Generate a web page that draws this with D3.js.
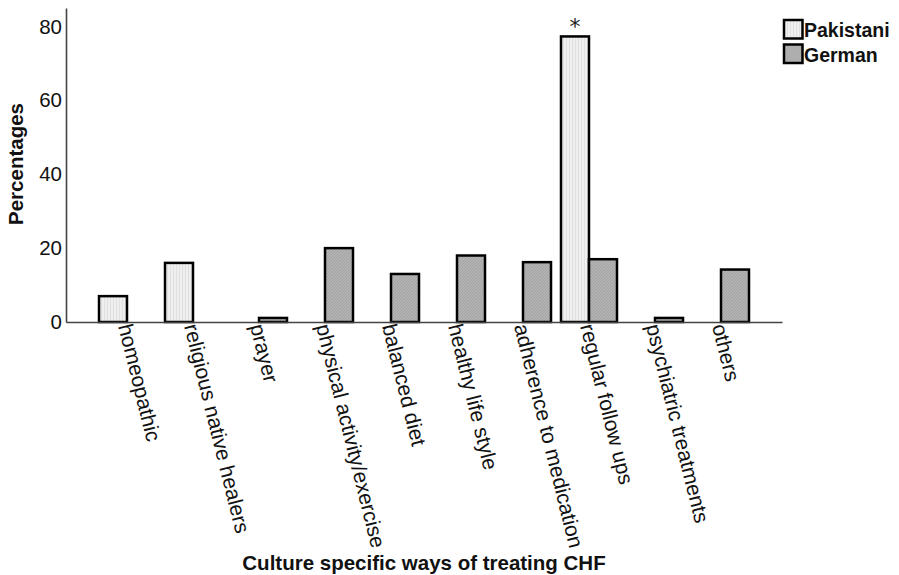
<!DOCTYPE html>
<html>
<head>
<meta charset="utf-8">
<script src="https://cdn.jsdelivr.net/npm/d3@7"></script>
<style>
  html, body { margin: 0; padding: 0; background: #fff; }
  svg { display: block; font-family: "Liberation Sans", Arial, sans-serif; }
</style>
</head>
<body>
<svg id="chart" width="899" height="575"></svg>
<script>
const categories = [
  "homeopathic", "religious native healers", "prayer", "physical activity/exercise",
  "balanced diet", "healthy life style", "adherence to medication", "regular follow ups",
  "psychiatric treatments", "others"
];
const seriesNames = ["Pakistani", "German"];
const pakistani = [7, 16, 0, 0, 0, 0, 0, 77.3, 0, 0];
const german = [0, 0, 1.1, 20, 13, 18, 16.2, 17, 1.1, 14.2];
const yTicks = [0, 20, 40, 60, 80];
const significant = ["regular follow ups"];
const yTitle = "Percentages";
const xTitle = "Culture specific ways of treating CHF";

const svg = d3.select("#chart");
const defs = svg.append("defs");

// textures
const pPat = defs.append("pattern").attr("id", "patP").attr("patternUnits", "userSpaceOnUse")
  .attr("width", 3).attr("height", 3);
pPat.append("rect").attr("width", 3).attr("height", 3).attr("fill", "#efefef");
pPat.append("rect").attr("x", 1).attr("width", 1).attr("height", 3).attr("fill", "#e0e0e0");

const gPat = defs.append("pattern").attr("id", "patG").attr("patternUnits", "userSpaceOnUse")
  .attr("width", 3).attr("height", 3);
gPat.append("rect").attr("width", 3).attr("height", 3).attr("fill", "#b3b3b3");
gPat.append("path").attr("d", "M0,3 L3,0").attr("stroke", "#a2a2a2").attr("stroke-width", 1);

const fills = { "Pakistani": "url(#patP)", "German": "url(#patG)" };

const x0 = d3.scaleBand().domain(categories).range([66, 782])
  .paddingInner(0).paddingOuter(28 / 66);
const x1 = d3.scaleBand().domain(seriesNames).range([5, 61]);
const y = d3.scaleLinear().domain([0, 85]).range([322, 8]);

const data = categories.map((c, i) => ({
  cat: c,
  values: [
    { s: "Pakistani", v: pakistani[i] },
    { s: "German", v: german[i] }
  ]
}));

// bars
const groups = svg.append("g").selectAll("g").data(data).join("g")
  .attr("transform", d => `translate(${x0(d.cat)},0)`);
groups.selectAll("rect").data(d => d.values.filter(e => e.v > 0)).join("rect")
  .attr("x", d => x1(d.s))
  .attr("width", x1.bandwidth())
  .attr("y", d => y(d.v))
  .attr("height", d => y(0) - y(d.v))
  .attr("fill", d => fills[d.s])
  .attr("stroke", "#000")
  .attr("stroke-width", 2.5);

// significance marker
groups.filter(d => significant.includes(d.cat)).append("text")
  .attr("x", x1("Pakistani") + x1.bandwidth() / 2)
  .attr("y", d => y(d.values[0].v) - 2.5)
  .attr("text-anchor", "middle")
  .style("font-family", "'DejaVu Sans', sans-serif")
  .style("font-size", "22px")
  .attr("fill", "#222")
  .text("*");

// y axis
const yAxis = svg.append("g").attr("transform", "translate(66,0)")
  .call(d3.axisLeft(y).tickValues(yTicks).tickSize(0).tickPadding(4).tickSizeOuter(0));
yAxis.select(".domain").attr("stroke", "#444").attr("stroke-width", 1.6);
yAxis.selectAll("text").style("font-size", "20.5px").attr("fill", "#111")
  .style("font-family", "'Liberation Sans', Arial, sans-serif");

// x axis
const xAxis = svg.append("g").attr("transform", "translate(0,322)")
  .call(d3.axisBottom(x0).tickSize(0).tickSizeOuter(0));
xAxis.select(".domain").attr("stroke", "#444").attr("stroke-width", 1.6);
xAxis.selectAll("text")
  .attr("x", 0).attr("y", 0).attr("dy", 0)
  .attr("text-anchor", "start")
  .attr("transform", "translate(-9,4) rotate(76)")
  .style("font-size", "21px").attr("fill", "#111")
  .style("font-family", "'Liberation Sans', Arial, sans-serif");

// titles
svg.append("text")
  .attr("transform", "translate(23,164) rotate(-90)")
  .attr("text-anchor", "middle")
  .style("font-size", "20.5px").style("font-weight", "bold").attr("fill", "#111")
  .text(yTitle);
svg.append("text")
  .attr("x", 424).attr("y", 570)
  .attr("text-anchor", "middle")
  .style("font-size", "20.5px").style("font-weight", "bold").attr("fill", "#111")
  .text(xTitle);

// legend
const legend = svg.append("g").attr("transform", "translate(783,19)");
const li = legend.selectAll("g").data(seriesNames).join("g")
  .attr("transform", (d, i) => `translate(0,${i * 24.5})`);
li.append("rect").attr("x", 1).attr("y", 1).attr("width", 18.5).attr("height", 18.5)
  .attr("fill", d => fills[d]).attr("stroke", "#000").attr("stroke-width", 2.5);
li.append("text").attr("x", 21).attr("y", 18.3)
  .style("font-size", "19.5px").style("font-weight", "bold").attr("fill", "#111")
  .text(d => d);
</script>
</body>
</html>
